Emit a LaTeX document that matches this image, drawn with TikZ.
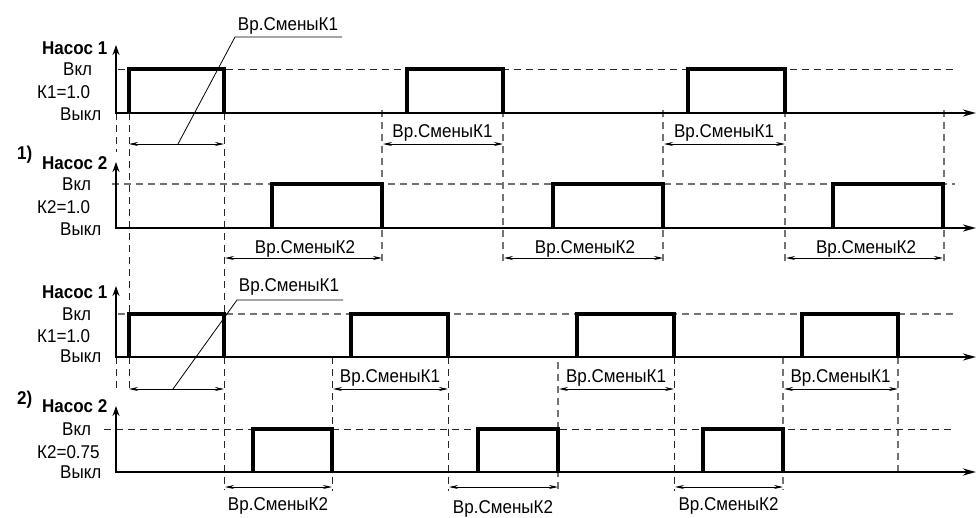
\documentclass[tikz,border=0pt]{standalone}
\usepackage{fontspec}
\setmainfont{Liberation Sans}[FakeStretch=0.92]
\usetikzlibrary{arrows.meta}
\begin{document}
\begin{tikzpicture}[x=1pt,y=-1pt,
  pulse/.style={line width=3.4pt, line join=miter, line cap=butt},
  axisv/.style={line width=2.2pt, -{Stealth[length=10pt,width=7pt]}},
  axish/.style={line width=2.2pt, -{Stealth[length=13pt,width=7pt]}},
  dsh/.style={line width=1pt, black!85, dash pattern=on 7pt off 5pt},
  dshg/.style={line width=1.1pt, black!55, dash pattern=on 7pt off 5pt},
  dimline/.style={line width=0.9pt, {Stealth[length=9pt,width=4pt]}-{Stealth[length=9pt,width=4pt]}},
  thinline/.style={line width=0.8pt},
  lbl/.style={font=\fontsize{18.5}{20}\selectfont, inner sep=0pt},
  ttl/.style={font=\fontsize{18.5}{20}\selectfont\bfseries, inner sep=0pt}]
\useasboundingbox[fill=white] (0,0) rectangle (976,517);

% ================= SECTION 1 =================
% vertical dashed guides
\draw[dsh] (116,113) -- (116,152);
\draw[dsh] (129,113) -- (129,313);
\draw[dsh] (224,113) -- (224,313);
\foreach \x in {382,503,663,785,944} \draw[dshg] (\x,110) -- (\x,262);
% on levels
\draw[dsh] (118,69) -- (955,69);
\draw[dshg] (112,184) -- (955,184);
% axes
\draw[axisv] (116,114) -- (116,45);
\draw[axish] (115,113) -- (976,113);
\draw[axisv] (116,229) -- (116,162);
\draw[axish] (115,228) -- (976,228);
% pulses
\foreach \a/\b in {129/224,407/503,688/785}
  \draw[pulse] (\a,113) -- (\a,69) -- (\b,69) -- (\b,113);
\foreach \a/\b in {272/382,553/663,833/943}
  \draw[pulse] (\a,228) -- (\a,184) -- (\b,184) -- (\b,228);
% labels
\node[ttl,anchor=base west] (s1p1) at (42,54) {Насос 1};
\node[lbl,anchor=base west] (s1on1) at (63,75.5) {Вкл};
\node[lbl,anchor=base west] (s1k1) at (37,98.5) {К1=1.0};
\node[lbl,anchor=base west] (s1off1) at (60,120) {Выкл};
\node[ttl,anchor=base west] (s1n) at (17,159) {1)};
\node[ttl,anchor=base west] (s1p2) at (42,169) {Насос 2};
\node[lbl,anchor=base west] (s1on2) at (62,190) {Вкл};
\node[lbl,anchor=base west] (s1k2) at (37,213) {К2=1.0};
\node[lbl,anchor=base west] (s1off2) at (60,235) {Выкл};
% dimension K1
\coordinate (d1a) at (129,144); \coordinate (d1b) at (224,144);
\draw[dimline] (d1a) -- (d1b);
\node[lbl,anchor=base] (s1t) at (288,30) {Вр.СменыК1};
\coordinate (u1a) at (235,37); \coordinate (u1b) at (342,37); \coordinate (l1) at (178,144);
\draw[thinline] (u1b) -- (u1a) -- (l1);
\foreach \a/\b in {382/503,663/785}{
  \draw[dimline] (\a+1,144) -- (\b,144);
  \node[lbl,anchor=base] at ({(\a+\b)/2},137) {Вр.СменыК1};
}
\foreach \a/\b in {224/382,503/663,785/943}{
  \draw[dimline] (\a+1,258) -- (\b,258);
  \node[lbl,anchor=base] at ({(\a+\b)/2+2},253) {Вр.СменыК2};
}

% ================= SECTION 2 =================
\draw[dsh] (116,357) -- (116,392);
\draw[dsh] (129,357) -- (129,392);
\draw[dsh] (224,357) -- (224,490);
\foreach \x in {332,448,674} \draw[dsh] (\x,357) -- (\x,491);
\draw[dshg] (558,362) -- (558,490);
\draw[dshg] (783,357) -- (783,490);
\draw[dshg] (898,357) -- (898,475);
% on levels
\draw[dshg] (118,314) -- (955,314);
\draw[dsh] (104,429) -- (955,429);
% axes
\draw[axisv] (116,358) -- (116,286);
\draw[axish] (115,357) -- (976,357);
\draw[axisv] (116,473) -- (116,406);
\draw[axish] (115,472) -- (976,472);
% pulses
\foreach \a/\b in {129/224,351/448,577/674,802/898}
  \draw[pulse] (\a,357) -- (\a,314) -- (\b,314) -- (\b,357);
\foreach \a/\b in {253/332,478/558,703/783}
  \draw[pulse] (\a,472) -- (\a,429) -- (\b,429) -- (\b,472);
% labels
\node[ttl,anchor=base west] (s2p1) at (42,298) {Насос 1};
\node[lbl,anchor=base west] (s2on1) at (62,320) {Вкл};
\node[lbl,anchor=base west] (s2k1) at (37,342) {К1=1.0};
\node[lbl,anchor=base west] (s2off1) at (60,362) {Выкл};
\node[ttl,anchor=base west] (s2n) at (17,404) {2)};
\node[ttl,anchor=base west] (s2p2) at (42,412) {Насос 2};
\node[lbl,anchor=base west] (s2on2) at (62,435) {Вкл};
\node[lbl,anchor=base west] (s2k2) at (37,458) {К2=0.75};
\node[lbl,anchor=base west] (s2off2) at (60,478) {Выкл};
% dimension K1
\coordinate (d2a) at (129,389); \coordinate (d2b) at (224,389);
\draw[dimline] (d2a) -- (d2b);
\node[lbl,anchor=base] (s2t) at (289,291) {Вр.СменыК1};
\coordinate (u2a) at (237,300); \coordinate (u2b) at (343,300); \coordinate (l2) at (173,389);
\draw[thinline] (u2b) -- (u2a) -- (l2);
\foreach \a/\b in {332/448,558/674,783/898}{
  \draw[dimline] (\a+1,389) -- (\b,389);
  \node[lbl,anchor=base] at ({(\a+\b)/2},382) {Вр.СменыК1};
}
\foreach \a/\b/\t in {224/332/510,448/558/513,674/783/510}{
  \draw[dimline] (\a+1,487) -- (\b,487);
  \node[lbl,anchor=base] at ({(\a+\b)/2},\t) {Вр.СменыК2};
}
\end{tikzpicture}
\end{document}
